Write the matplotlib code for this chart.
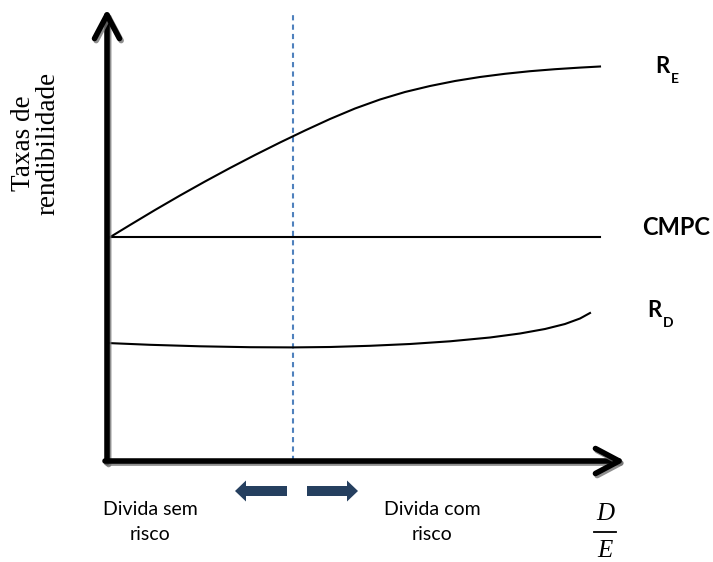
import numpy as np
import matplotlib
matplotlib.use('Agg')
from matplotlib import pyplot as plt
from matplotlib import patheffects as pe
from matplotlib.patches import FancyArrow

# curves (x = D/E, y = rate, arbitrary units)
re_x = [0, 23, 48, 73, 98, 123, 148, 173, 198, 223, 248, 273, 298, 323, 348, 373, 398, 423, 448, 473, 493]
re_y = [222, 236, 251, 265.5, 279.5, 293, 306, 318.5, 330.5, 342, 352.5, 361.5, 369, 375, 380, 384,
        387.2, 389.8, 391.8, 393.4, 394.5]
cmpc_x = [0, 493]
cmpc_y = [224, 224]
rd_x = [0, 43, 93, 143, 186, 223, 263, 303, 343, 383, 413, 438, 458, 473, 483]
rd_y = [118, 116.2, 114.7, 113.8, 113.6, 114, 115.2, 117, 119.7, 123.5, 127.5, 132, 137, 142.5, 148]
split_x = 186
axis_top = 452
axis_right = 518

ylabel = 'Taxas de\nrendibilidade'
left_text = 'Divida sem\nrisco'
right_text = 'Divida com\nrisco'

fig = plt.figure(figsize=(7.13, 5.62), dpi=100)
ax = fig.add_axes([0, 0, 1, 1])
ax.set_xlim(-107, 606)
ax.set_ylim(-101, 461)
ax.axis('off')

shadow = [pe.SimpleLineShadow(offset=(1.2, -1.5), shadow_color='0.45', alpha=0.8), pe.Normal()]
arrow_style = '->,head_length=0.85,head_width=0.45'
ax.annotate('', xy=(0, axis_top), xytext=(0, -1.5),
            arrowprops=dict(arrowstyle=arrow_style, lw=4, color='black', mutation_scale=20,
                            shrinkA=0, shrinkB=0, path_effects=shadow))
ax.annotate('', xy=(axis_right, 0), xytext=(-2, 0),
            arrowprops=dict(arrowstyle=arrow_style, lw=4, color='black', mutation_scale=20,
                            shrinkA=0, shrinkB=0, path_effects=shadow))

ax.plot([split_x, split_x], [0, 449], color='#4F81BD', lw=1.5, dashes=(2.5, 2))

ax.plot(re_x, re_y, color='black', lw=1.5)
ax.plot(cmpc_x, cmpc_y, color='black', lw=1.5)
ax.plot(rd_x, rd_y, color='black', lw=1.5)

ax.text(-71, 318, ylabel, rotation=90, ha='center', va='center', family='Liberation Serif',
        fontsize=19.5, linespacing=0.95)

ax.text(535, 226, 'CMPC', family='Lato', fontweight='bold', fontsize=17, va='baseline')
ax.text(548, 388, 'R', family='Lato', fontweight='bold', fontsize=16, va='baseline')
ax.text(564, 378, 'E', family='Lato', fontweight='bold', fontsize=10, va='baseline')
ax.text(540, 144, 'R', family='Lato', fontweight='bold', fontsize=16, va='baseline')
ax.text(556, 134, 'D', family='Lato', fontweight='bold', fontsize=10, va='baseline')

ax.text(43, -61, left_text, family='Lato', fontsize=14, ha='center', va='center', linespacing=1.6)
ax.text(325, -61, right_text, family='Lato', fontsize=14, ha='center', va='center', linespacing=1.6)

ax.add_patch(FancyArrow(180, -30, -52, 0, width=10, head_width=21, head_length=11,
                        length_includes_head=True, color='#253F5F', lw=0))
ax.add_patch(FancyArrow(200, -30, 51, 0, width=10, head_width=21, head_length=11,
                        length_includes_head=True, color='#253F5F', lw=0))

ax.text(498, -53, 'D', family='Liberation Serif', style='italic', fontsize=18, ha='center', va='center')
ax.plot([487, 509], [-71, -71], color='black', lw=1.3)
ax.text(498, -90, 'E', family='Liberation Serif', style='italic', fontsize=18, ha='center', va='center')

fig.savefig('out.png', dpi=100)
